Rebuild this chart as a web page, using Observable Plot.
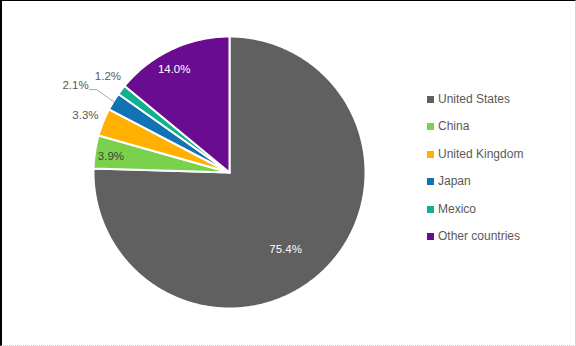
<!DOCTYPE html>
<html>
<head>
<meta charset="utf-8">
<script src="https://cdn.jsdelivr.net/npm/d3@7"></script>
<script src="https://cdn.jsdelivr.net/npm/@observablehq/plot@0.6"></script>
<style>
  html, body { margin: 0; padding: 0; background: #fff; }
  #wrap { position: relative; width: 576px; height: 346px; overflow: hidden; font-family: "Liberation Sans", Arial, sans-serif; }
  #chart { position: absolute; left: 0; top: 0; }
  #border { position: absolute; left: 0; top: 0; width: 576px; height: 346px; box-sizing: border-box;
            border-top: 1px solid #000; border-left: 2px solid #000; border-right: 1px solid #d4d4d4; border-bottom: 1px dotted #c8c8c8; pointer-events: none; }
  .leg { position: absolute; left: 427px; height: 16px; line-height: 16px; font-size: 12px; color: #595959; white-space: nowrap; }
  .leg span.sw { display: inline-block; width: 7px; height: 7px; margin-right: 4px; vertical-align: 0px; }
</style>
</head>
<body>
<div id="wrap">
  <div id="chart"></div>
  <div id="legend"></div>
  <div id="border"></div>
</div>
<script>
// ---- data ----
const countries = ["United States", "China", "United Kingdom", "Japan", "Mexico", "Other countries"];
const shares = [75.4, 3.9, 3.3, 2.1, 1.2, 14.0];
const labels = ["75.4%", "3.9%", "3.3%", "2.1%", "1.2%", "14.0%"];
const palette = ["#606060", "#7ad24c", "#ffb000", "#1172b4", "#12b08e", "#6a0c8f"];

// ---- layout (not data) ----
const labelRadius = [0.70, 0.88, 1.14, 1.30, 1.14, 0.86];
const labelAngleShift = [8, -1, 0, -2, 1, -3]; // degrees
const labelColor = ["#ffffff", "#404040", "#595959", "#595959", "#595959", "#ffffff"];
const R = 136; // pixel radius, used for converting small pixel offsets

const total = d3.sum(shares);
let cum = 0;
const slices = countries.map((c, i) => {
  const a0 = cum / total * 2 * Math.PI;
  cum += shares[i];
  const a1 = cum / total * 2 * Math.PI;
  return {country: c, a0, a1, i};
});

// polygon vertices for each slice (center -> arc -> center)
const pts = [];
for (const s of slices) {
  pts.push({country: s.country, x: 0, y: 0});
  const n = Math.max(2, Math.ceil((s.a1 - s.a0) / (Math.PI / 360)));
  for (let k = 0; k <= n; k++) {
    const a = s.a0 + (s.a1 - s.a0) * k / n;
    pts.push({country: s.country, x: Math.sin(a), y: Math.cos(a)});
  }
  pts.push({country: s.country, x: 0, y: 0});
}

const labelData = slices.map(s => {
  const a = (s.a0 + s.a1) / 2 + labelAngleShift[s.i] * Math.PI / 180;
  const r = labelRadius[s.i];
  return {text: labels[s.i], x: r * Math.sin(a), y: r * Math.cos(a), color: labelColor[s.i]};
});

// leader line for Japan label
const jp = slices[3];
const jm = (jp.a0 + jp.a1) / 2;
const jl = labelData[3];
const leader = [
  {x: jl.x + 14 / R, y: jl.y - 4 / R},
  {x: jl.x + 21 / R, y: jl.y - 4 / R},
  {x: Math.sin(jm), y: Math.cos(jm)}
];

const textColors = Array.from(new Set(labelColor));

const plot = Plot.plot({
  width: 576,
  height: 346,
  marginLeft: 93,
  marginRight: 211,
  marginTop: 36,
  marginBottom: 38,
  x: {domain: [-1, 1], axis: null},
  y: {domain: [-1, 1], axis: null},
  color: {domain: countries, range: palette},
  style: {background: "transparent", fontFamily: "Liberation Sans, Arial, sans-serif"},
  marks: [
    Plot.line(pts, {x: "x", y: "y", z: "country", fill: "country", stroke: "white", strokeWidth: 2, strokeLinejoin: "round", curve: "linear"}),
    Plot.line(leader, {x: "x", y: "y", stroke: "#a6a6a6", strokeWidth: 1}),
    ...textColors.map(col =>
      Plot.text(labelData.filter(d => d.color === col), {x: "x", y: "y", text: "text", fill: col, fontSize: 11.5})
    )
  ]
});
document.getElementById("chart").appendChild(plot);

// legend
const legend = document.getElementById("legend");
countries.forEach((c, i) => {
  const div = document.createElement("div");
  div.className = "leg";
  div.style.top = (91 + i * 27.4) + "px";
  const sw = document.createElement("span");
  sw.className = "sw";
  sw.style.background = plot.scale("color").apply(c);
  div.appendChild(sw);
  div.appendChild(document.createTextNode(c));
  legend.appendChild(div);
});
</script>
</body>
</html>
